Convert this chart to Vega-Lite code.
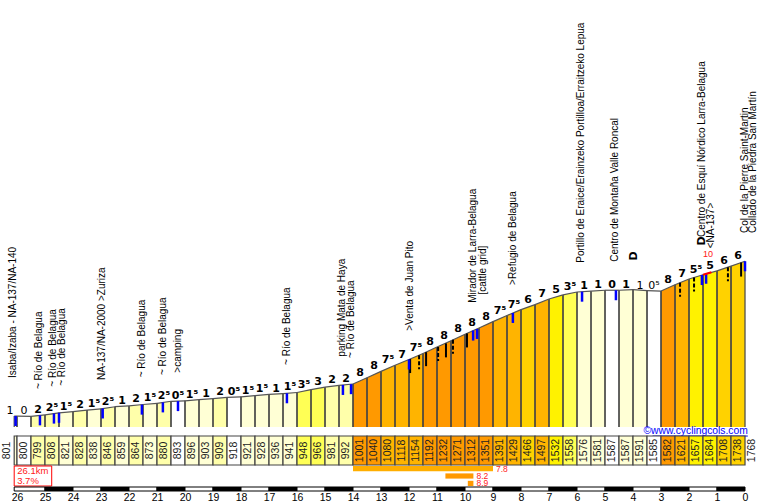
{
  "$schema": "https://vega.github.io/schema/vega-lite/v6.json",
  "padding": 0,
  "autosize": {"type": "pad"},
  "background": "white",
  "config": {"view": {"stroke": null}, "text": {"font": "Liberation Sans"}},
  "spacing": 1,
  "bounds": "flush",
  "resolve": {"scale": {"color": "independent"}},
  "datasets": {
    "seg": [
      {"s":26.1,"e":26,"a0":801,"a1":800,"g":-1.0,"t":"1"},
      {"s":26,"e":25.5,"a0":800,"a1":799,"g":-0.2,"t":"0"},
      {"s":25.5,"e":25,"a0":799,"a1":808,"g":1.8,"t":"2"},
      {"s":25,"e":24.5,"a0":808,"a1":821,"g":2.6,"t":"2⁵"},
      {"s":24.5,"e":24,"a0":821,"a1":828,"g":1.4,"t":"1⁵"},
      {"s":24,"e":23.5,"a0":828,"a1":838,"g":2.0,"t":"2"},
      {"s":23.5,"e":23,"a0":838,"a1":846,"g":1.6,"t":"1⁵"},
      {"s":23,"e":22.5,"a0":846,"a1":859,"g":2.6,"t":"2⁵"},
      {"s":22.5,"e":22,"a0":859,"a1":864,"g":1.0,"t":"1"},
      {"s":22,"e":21.5,"a0":864,"a1":873,"g":1.8,"t":"2"},
      {"s":21.5,"e":21,"a0":873,"a1":880,"g":1.4,"t":"1⁵"},
      {"s":21,"e":20.5,"a0":880,"a1":893,"g":2.6,"t":"2⁵"},
      {"s":20.5,"e":20,"a0":893,"a1":896,"g":0.6,"t":"0⁵"},
      {"s":20,"e":19.5,"a0":896,"a1":903,"g":1.4,"t":"1⁵"},
      {"s":19.5,"e":19,"a0":903,"a1":909,"g":1.2,"t":"1"},
      {"s":19,"e":18.5,"a0":909,"a1":918,"g":1.8,"t":"2"},
      {"s":18.5,"e":18,"a0":918,"a1":921,"g":0.6,"t":"0⁵"},
      {"s":18,"e":17.5,"a0":921,"a1":928,"g":1.4,"t":"1⁵"},
      {"s":17.5,"e":17,"a0":928,"a1":936,"g":1.6,"t":"1⁵"},
      {"s":17,"e":16.5,"a0":936,"a1":941,"g":1.0,"t":"1"},
      {"s":16.5,"e":16,"a0":941,"a1":948,"g":1.4,"t":"1⁵"},
      {"s":16,"e":15.5,"a0":948,"a1":966,"g":3.6,"t":"3⁵"},
      {"s":15.5,"e":15,"a0":966,"a1":981,"g":3.0,"t":"3"},
      {"s":15,"e":14.5,"a0":981,"a1":992,"g":2.2,"t":"2"},
      {"s":14.5,"e":14,"a0":992,"a1":1001,"g":1.8,"t":"2"},
      {"s":14,"e":13.5,"a0":1001,"a1":1040,"g":7.8,"t":"8"},
      {"s":13.5,"e":13,"a0":1040,"a1":1080,"g":8.0,"t":"8"},
      {"s":13,"e":12.5,"a0":1080,"a1":1118,"g":7.6,"t":"7⁵"},
      {"s":12.5,"e":12,"a0":1118,"a1":1154,"g":7.2,"t":"7"},
      {"s":12,"e":11.5,"a0":1154,"a1":1192,"g":7.6,"t":"7⁵"},
      {"s":11.5,"e":11,"a0":1192,"a1":1232,"g":8.0,"t":"8"},
      {"s":11,"e":10.5,"a0":1232,"a1":1271,"g":7.8,"t":"8"},
      {"s":10.5,"e":10,"a0":1271,"a1":1312,"g":8.2,"t":"8"},
      {"s":10,"e":9.5,"a0":1312,"a1":1351,"g":7.8,"t":"8"},
      {"s":9.5,"e":9,"a0":1351,"a1":1391,"g":8.0,"t":"8"},
      {"s":9,"e":8.5,"a0":1391,"a1":1429,"g":7.6,"t":"7⁵"},
      {"s":8.5,"e":8,"a0":1429,"a1":1466,"g":7.4,"t":"7⁵"},
      {"s":8,"e":7.5,"a0":1466,"a1":1497,"g":6.2,"t":"6"},
      {"s":7.5,"e":7,"a0":1497,"a1":1532,"g":7.0,"t":"7"},
      {"s":7,"e":6.5,"a0":1532,"a1":1558,"g":5.2,"t":"5"},
      {"s":6.5,"e":6,"a0":1558,"a1":1576,"g":3.6,"t":"3⁵"},
      {"s":6,"e":5.5,"a0":1576,"a1":1581,"g":1.0,"t":"1"},
      {"s":5.5,"e":5,"a0":1581,"a1":1587,"g":1.2,"t":"1"},
      {"s":5,"e":4.5,"a0":1587,"a1":1587,"g":0.0,"t":"0"},
      {"s":4.5,"e":4,"a0":1587,"a1":1591,"g":0.8,"t":"1"},
      {"s":4,"e":3.5,"a0":1591,"a1":1585,"g":-1.2,"t":"1"},
      {"s":3.5,"e":3,"a0":1585,"a1":1582,"g":-0.6,"t":"0⁵"},
      {"s":3,"e":2.5,"a0":1582,"a1":1621,"g":7.8,"t":"8"},
      {"s":2.5,"e":2,"a0":1621,"a1":1657,"g":7.2,"t":"7"},
      {"s":2,"e":1.5,"a0":1657,"a1":1684,"g":5.4,"t":"5⁵"},
      {"s":1.5,"e":1,"a0":1684,"a1":1708,"g":4.8,"t":"5"},
      {"s":1,"e":0.5,"a0":1708,"a1":1738,"g":6.0,"t":"6"},
      {"s":0.5,"e":0,"a0":1738,"a1":1768,"g":6.0,"t":"6"}
    ],
    "names": [
      {"km":26.13,"alt":1038,"name":"Isaba/Izaba - NA-137/NA-140"},
      {"km":25.2,"alt":969,"name":"~ Río de Belagua"},
      {"km":24.71,"alt":984,"name":"~ Río de Belagua"},
      {"km":24.39,"alt":990,"name":"~ Río de Belagua"},
      {"km":22.96,"alt":1026,"name":"NA-137/NA-2000 >Zuriza"},
      {"km":21.54,"alt":1043,"name":"~ Río de Belagua"},
      {"km":20.79,"alt":1057,"name":"~ Río de Belagua"},
      {"km":20.25,"alt":1072,"name":">camping"},
      {"km":16.36,"alt":1120,"name":"~ Río de Belagua"},
      {"km":14.39,"alt":1172,"name":"parking Mata de Haya"},
      {"km":14.07,"alt":1164,"name":"~ Río de Belagua"},
      {"km":11.98,"alt":1334,"name":">Venta de Juan Pito"},
      {"km":9.73,"alt":1509,"name":"Mirador de Larra-Belagua"},
      {"km":9.37,"alt":1560,"name":"[cattle grid]"},
      {"km":8.29,"alt":1620,"name":">Refugio de Belagua"},
      {"km":5.87,"alt":1759,"name":"Portillo de Eraice/Erainzeko Portilloa/Erraitzeko Lepua"},
      {"km":4.64,"alt":1765,"name":"Centro de Montaña Valle Roncal"},
      {"km":1.55,"alt":1920,"name":"Centro de Esquí Nórdico Larra-Belagua"},
      {"km":1.22,"alt":1849,"name":"<NA-137>"},
      {"km":0.0,"alt":1945,"name":"Col de la Pierre Saint-Martin"},
      {"km":-0.29,"alt":1945,"name":"Collado de la Piedra San Martín"}
    ],
    "icons": [
      {"km":3.96,"alt":1801,"sym":"D"},
      {"km":1.55,"alt":1895,"sym":"D"}
    ],
    "water": [
      {"km":26.05,"alt":801},{"km":25.18,"alt":805},{"km":24.68,"alt":816},{"km":24.5,"alt":821},
      {"km":22.94,"alt":848},{"km":21.54,"alt":872},{"km":20.79,"alt":886},{"km":20.25,"alt":894},
      {"km":16.36,"alt":943},{"km":14.36,"alt":995},{"km":14.07,"alt":1000},{"km":12.0,"alt":1154},
      {"km":9.71,"alt":1335},{"km":9.57,"alt":1345},{"km":8.29,"alt":1445},{"km":5.82,"alt":1578},
      {"km":4.61,"alt":1587},{"km":1.54,"alt":1682},{"km":1.39,"alt":1690},{"km":0.0,"alt":1768}
    ],
    "gridsolid": [
      {"km":11.96,"alt":1157},{"km":11.39,"alt":1200},{"km":10.68,"alt":1255},{"km":9.93,"alt":1317},{"km":0.14,"alt":1760}
    ],
    "griddash": [
      {"km":11.64,"alt":1181},{"km":10.96,"alt":1233},{"km":10.43,"alt":1278},{"km":2.32,"alt":1634},{"km":1.82,"alt":1666},{"km":0.61,"alt":1731}
    ],
    "steep": [{"s":1.5,"e":1.2,"a0":1684,"a1":1699,"v":"10"}],
    "credit": [{"km":-0.1,"alt":732,"site":"©www.cyclingcols.com"}],
    "summary": [{"km":26.1,"dist":"26.1km","avg":"3.7%"}],
    "best": [
      {"len":"5km","s":14,"e":9,"v":7.8},
      {"len":"1km","s":10.7,"e":9.7,"v":8.2},
      {"len":"200m","s":9.9,"e":9.7,"v":8.9}
    ],
    "ruler": [
      {"s":26.1,"e":25},{"s":25,"e":24},{"s":24,"e":23},{"s":23,"e":22},{"s":22,"e":21},{"s":21,"e":20},
      {"s":20,"e":19},{"s":19,"e":18},{"s":18,"e":17},{"s":17,"e":16},{"s":16,"e":15},{"s":15,"e":14},
      {"s":14,"e":13},{"s":13,"e":12},{"s":12,"e":11},{"s":11,"e":10},{"s":10,"e":9},{"s":9,"e":8},
      {"s":8,"e":7},{"s":7,"e":6},{"s":6,"e":5},{"s":5,"e":4},{"s":4,"e":3},{"s":3,"e":2},{"s":2,"e":1},{"s":1,"e":0}
    ]
  },
  "vconcat": [
    {
      "width": 761,
      "height": 435,
      "layer": [
        {
          "data": {"name": "seg"},
          "transform": [
            {"fold": ["s", "e"], "as": ["ks", "km"]},
            {"fold": ["a0", "a1"], "as": ["ka", "alt"]},
            {"filter": "(datum.ks == 's') == (datum.ka == 'a0')"}
          ],
          "layer": [
            {
              "mark": {"type": "area", "strokeWidth": 0},
              "encoding": {
                "x": {"field": "km", "type": "quantitative", "scale": {"domain": [-0.571, 26.607], "reverse": true, "nice": false, "zero": false}, "axis": null},
                "y": {"field": "alt", "type": "quantitative", "stack": null, "scale": {"domain": [682.25, 3401], "nice": false, "zero": false}, "axis": null},
                "y2": {"datum": 732},
                "color": {"field": "g", "type": "quantitative", "legend": null,
                  "scale": {"type": "threshold", "domain": [-1.75, -0.75, 0.75, 1.75, 2.75, 3.75, 5.75, 6.75, 7.75],
                    "range": ["#FFFFAA", "#FFFFD5", "#FFFFFF", "#FFFFD5", "#FFFFAA", "#FFFF55", "#FFF200", "#FFD200", "#FFB400", "#FF9900"]}},
                "detail": {"field": "s", "type": "quantitative"}
              }
            },
            {
              "mark": {"type": "rule", "color": "#444444", "strokeWidth": 1.2},
              "encoding": {
                "x": {"field": "km", "type": "quantitative"},
                "y": {"field": "alt", "type": "quantitative"},
                "y2": {"datum": 732}
              }
            }
          ]
        },
        {
          "data": {"name": "seg"},
          "mark": {"type": "rule", "color": "#555555", "strokeWidth": 1.2},
          "encoding": {
            "x": {"field": "s", "type": "quantitative"},
            "x2": {"field": "e"},
            "y": {"field": "a0", "type": "quantitative"},
            "y2": {"field": "a1"}
          }
        },
        {
          "data": {"name": "seg"},
          "transform": [{"filter": "datum.g >= 0"}],
          "mark": {"type": "text", "font": "DejaVu Sans", "fontWeight": "bold", "fontSize": 11, "align": "center", "baseline": "alphabetic", "dx": -7, "dy": -2, "color": "black"},
          "encoding": {
            "x": {"field": "e", "type": "quantitative"},
            "y": {"field": "a1", "type": "quantitative"},
            "text": {"field": "t"}
          }
        },
        {
          "data": {"name": "seg"},
          "transform": [{"filter": "datum.g < 0"}],
          "mark": {"type": "text", "font": "DejaVu Sans", "fontWeight": "normal", "fontSize": 11, "align": "center", "baseline": "alphabetic", "dx": -7, "dy": -2, "color": "black"},
          "encoding": {
            "x": {"field": "e", "type": "quantitative"},
            "y": {"field": "a1", "type": "quantitative"},
            "text": {"field": "t"}
          }
        },
        {
          "data": {"name": "gridsolid"},
          "mark": {"type": "rule", "color": "black", "strokeWidth": 2, "y2Offset": 14},
          "encoding": {
            "x": {"field": "km", "type": "quantitative"},
            "y": {"field": "alt", "type": "quantitative"},
            "y2": {"field": "alt"}
          }
        },
        {
          "data": {"name": "griddash"},
          "mark": {"type": "rule", "color": "black", "strokeWidth": 2, "y2Offset": 14, "strokeDash": [4, 2]},
          "encoding": {
            "x": {"field": "km", "type": "quantitative"},
            "y": {"field": "alt", "type": "quantitative"},
            "y2": {"field": "alt"}
          }
        },
        {
          "data": {"name": "water"},
          "mark": {"type": "rule", "color": "#0000FF", "strokeWidth": 2.5, "y2Offset": 10},
          "encoding": {
            "x": {"field": "km", "type": "quantitative"},
            "y": {"field": "alt", "type": "quantitative"},
            "y2": {"field": "alt"}
          }
        },
        {
          "data": {"name": "steep"},
          "mark": {"type": "rule", "color": "#FF0000", "strokeWidth": 2},
          "encoding": {
            "x": {"field": "s", "type": "quantitative"},
            "x2": {"field": "e"},
            "y": {"field": "a0", "type": "quantitative"},
            "y2": {"field": "a1"}
          }
        },
        {
          "data": {"name": "steep"},
          "mark": {"type": "text", "color": "#FF2020", "fontSize": 9, "align": "left", "baseline": "middle", "dx": 0, "dy": -18},
          "encoding": {
            "x": {"field": "s", "type": "quantitative"},
            "y": {"field": "a1", "type": "quantitative"},
            "text": {"field": "v"}
          }
        },
        {
          "data": {"name": "names"},
          "mark": {"type": "text", "angle": 270, "align": "left", "baseline": "middle", "fontSize": 10, "color": "black"},
          "encoding": {
            "x": {"field": "km", "type": "quantitative"},
            "y": {"field": "alt", "type": "quantitative"},
            "text": {"field": "name"}
          }
        },
        {
          "data": {"name": "icons"},
          "mark": {"type": "text", "angle": 270, "align": "center", "baseline": "middle", "font": "DejaVu Sans", "fontWeight": "bold", "fontSize": 11, "color": "black"},
          "encoding": {
            "x": {"field": "km", "type": "quantitative"},
            "y": {"field": "alt", "type": "quantitative"},
            "text": {"field": "sym"}
          }
        },
        {
          "data": {"name": "credit"},
          "mark": {"type": "text", "align": "right", "baseline": "middle", "dy": 4, "fontSize": 10.3, "color": "#0000FF"},
          "encoding": {
            "x": {"field": "km", "type": "quantitative"},
            "y": {"field": "alt", "type": "quantitative"},
            "text": {"field": "site"}
          }
        },
        {
          "data": {"name": "credit"},
          "mark": {"type": "rule", "color": "#0000FF", "strokeWidth": 1, "yOffset": 9},
          "encoding": {
            "x": {"field": "km", "type": "quantitative"},
            "x2": {"datum": 3.3},
            "y": {"field": "alt", "type": "quantitative"}
          }
        }
      ]
    },
    {
      "width": 761,
      "height": 29,
      "data": {"name": "seg"},
      "layer": [
        {
          "mark": {"type": "rect", "stroke": "#444444", "strokeWidth": 1.2},
          "encoding": {
            "x": {"field": "s", "type": "quantitative", "scale": {"domain": [-0.571, 26.607], "reverse": true, "nice": false, "zero": false}, "axis": null},
            "x2": {"field": "e"},
            "color": {"field": "g", "type": "quantitative", "legend": null,
              "scale": {"type": "threshold", "domain": [-1.75, -0.75, 0.75, 1.75, 2.75, 3.75, 5.75, 6.75, 7.75],
                "range": ["#FFFFAA", "#FFFFD5", "#FFFFFF", "#FFFFD5", "#FFFFAA", "#FFFF55", "#FFF200", "#FFD200", "#FFB400", "#FF9900"]}}
          }
        },
        {
          "transform": [{"filter": "datum.s < 26.05"}],
          "mark": {"type": "text", "angle": 270, "align": "center", "baseline": "middle", "dy": 7, "fontSize": 10.5, "color": "#222222"},
          "encoding": {
            "x": {"field": "s", "type": "quantitative"},
            "text": {"field": "a0"}
          }
        },
        {
          "transform": [{"filter": "datum.s > 26.05"}],
          "mark": {"type": "text", "angle": 270, "align": "center", "baseline": "middle", "dy": -7, "fontSize": 10.5, "color": "#222222"},
          "encoding": {
            "x": {"field": "s", "type": "quantitative"},
            "text": {"field": "a0"}
          }
        },
        {
          "transform": [{"filter": "datum.e == 0"}],
          "mark": {"type": "text", "angle": 270, "align": "center", "baseline": "middle", "dy": 7, "fontSize": 10.5, "color": "#222222"},
          "encoding": {
            "x": {"field": "e", "type": "quantitative"},
            "text": {"field": "a1"}
          }
        }
      ]
    },
    {
      "width": 761,
      "height": 20,
      "layer": [
        {
          "data": {"name": "summary"},
          "mark": {"type": "rect", "fill": "white", "stroke": "#FF0000", "strokeWidth": 1},
          "encoding": {
            "x": {"field": "km", "type": "quantitative", "scale": {"domain": [-0.571, 26.607], "reverse": true, "nice": false, "zero": false}, "axis": null},
            "x2": {"datum": 24.76}
          }
        },
        {
          "data": {"name": "summary"},
          "mark": {"type": "text", "align": "left", "baseline": "middle", "dx": 3, "dy": -5, "fontSize": 9.5, "color": "#FF1A1A"},
          "encoding": {
            "x": {"field": "km", "type": "quantitative"},
            "text": {"field": "dist"}
          }
        },
        {
          "data": {"name": "summary"},
          "mark": {"type": "text", "align": "left", "baseline": "middle", "dx": 3, "dy": 5, "fontSize": 9.5, "color": "#FF1A1A"},
          "encoding": {
            "x": {"field": "km", "type": "quantitative"},
            "text": {"field": "avg"}
          }
        },
        {
          "data": {"name": "best"},
          "mark": {"type": "rect"},
          "encoding": {
            "x": {"field": "s", "type": "quantitative"},
            "x2": {"field": "e"},
            "y": {"field": "len", "type": "nominal", "axis": null, "scale": {"domain": ["5km", "1km", "200m"], "paddingInner": 0.3, "paddingOuter": 0}},
            "color": {"field": "v", "type": "quantitative", "legend": null, "scale": {"type": "threshold", "domain": [8], "range": ["#FFAE00", "#FF9900"]}}
          }
        },
        {
          "data": {"name": "best"},
          "mark": {"type": "text", "align": "left", "baseline": "middle", "dx": 3, "fontSize": 8.5, "color": "#FF1A1A"},
          "encoding": {
            "x": {"field": "e", "type": "quantitative"},
            "y": {"field": "len", "type": "nominal"},
            "text": {"field": "v", "format": ".1f"}
          }
        }
      ]
    },
    {
      "width": 761,
      "height": 4,
      "data": {"name": "ruler"},
      "layer": [
        {
          "mark": {"type": "rect", "fill": "white", "stroke": "black", "strokeWidth": 1},
          "encoding": {
            "x": {"field": "s", "type": "quantitative", "scale": {"domain": [-0.571, 26.607], "reverse": true, "nice": false, "zero": false},
              "axis": {"values": [0,1,2,3,4,5,6,7,8,9,10,11,12,13,14,15,16,17,18,19,20,21,22,23,24,25,26], "format": "d", "domain": false, "ticks": false, "tickSize": 0, "grid": false, "title": null, "labelPadding": 1, "labelFontSize": 10.5, "labelFont": "Liberation Sans", "labelColor": "black", "labelFlush": false, "labelOverlap": false, "labelBound": false}},
            "x2": {"field": "e"}
          }
        },
        {
          "transform": [{"filter": "datum.e % 2 == 0"}],
          "mark": {"type": "rect", "fill": "black"},
          "encoding": {
            "x": {"field": "s", "type": "quantitative",
              "axis": {"values": [0,1,2,3,4,5,6,7,8,9,10,11,12,13,14,15,16,17,18,19,20,21,22,23,24,25,26], "format": "d", "domain": false, "ticks": false, "tickSize": 0, "grid": false, "title": null, "labelPadding": 1, "labelFontSize": 10.5, "labelFont": "Liberation Sans", "labelColor": "black", "labelFlush": false, "labelOverlap": false, "labelBound": false}},
            "x2": {"field": "e"}
          }
        }
      ]
    }
  ]
}
